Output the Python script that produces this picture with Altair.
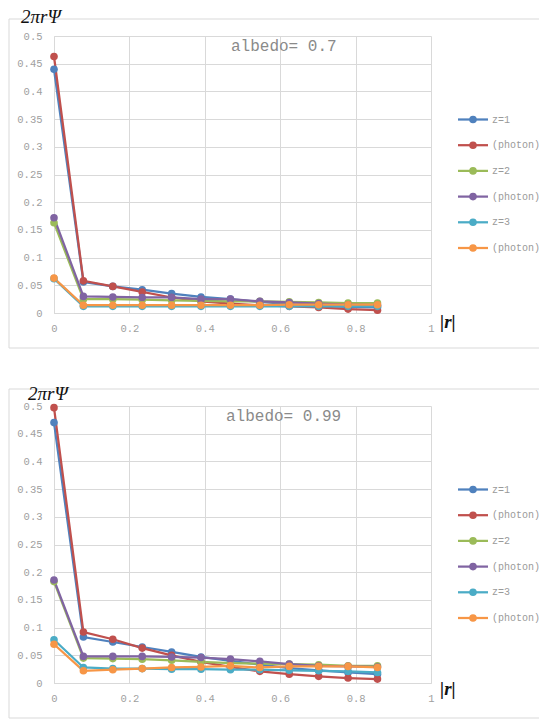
import altair as alt
import pandas as pd

# ---------------- data ----------------
r_values = [0, 0.078, 0.156, 0.234, 0.312, 0.39, 0.468, 0.546, 0.624, 0.702, 0.78, 0.858]

series_keys = ["s1", "s2", "s3", "s4", "s5", "s6"]
series_labels = ["z=1", "(photon)", "z=2", "(photon)", "z=3", "(photon)"]
series_colors = ["#4F81BD", "#C0504D", "#9BBB59", "#8064A2", "#4BACC6", "#F79646"]

# albedo = 0.7
a07_z1 = [0.440, 0.056, 0.048, 0.042, 0.035, 0.029, 0.025, 0.020, 0.016, 0.013, 0.011, 0.010]
a07_p1 = [0.463, 0.058, 0.048, 0.038, 0.028, 0.021, 0.017, 0.014, 0.012, 0.010, 0.007, 0.005]
a07_z2 = [0.163, 0.025, 0.025, 0.024, 0.023, 0.022, 0.021, 0.021, 0.020, 0.019, 0.018, 0.018]
a07_p2 = [0.172, 0.030, 0.029, 0.028, 0.028, 0.025, 0.025, 0.021, 0.019, 0.017, 0.015, 0.014]
a07_z3 = [0.062, 0.012, 0.012, 0.012, 0.012, 0.012, 0.012, 0.012, 0.012, 0.012, 0.012, 0.012]
a07_p3 = [0.063, 0.014, 0.014, 0.014, 0.014, 0.014, 0.014, 0.014, 0.015, 0.015, 0.015, 0.015]

# albedo = 0.99
a99_z1 = [0.470, 0.083, 0.074, 0.065, 0.056, 0.047, 0.040, 0.033, 0.027, 0.023, 0.019, 0.016]
a99_p1 = [0.497, 0.092, 0.079, 0.063, 0.050, 0.038, 0.029, 0.021, 0.016, 0.012, 0.009, 0.007]
a99_z2 = [0.183, 0.045, 0.044, 0.043, 0.041, 0.038, 0.036, 0.035, 0.034, 0.033, 0.031, 0.031]
a99_p2 = [0.186, 0.048, 0.048, 0.048, 0.047, 0.046, 0.043, 0.039, 0.034, 0.031, 0.030, 0.029]
a99_z3 = [0.078, 0.028, 0.026, 0.026, 0.025, 0.025, 0.024, 0.024, 0.023, 0.022, 0.021, 0.019]
a99_p3 = [0.070, 0.022, 0.024, 0.026, 0.028, 0.029, 0.031, 0.028, 0.030, 0.030, 0.030, 0.028]

x_ticks = [0, 0.2, 0.4, 0.6, 0.8, 1]
y_ticks = [0, 0.05, 0.1, 0.15, 0.2, 0.25, 0.3, 0.35, 0.4, 0.45, 0.5]

# ---------------- styling ----------------
W, H = 377, 277
GRID = "#d9d9d9"
LABEL = "#a0a0a0"
MONO = "Liberation Mono"
SERIF = "Liberation Serif"


def panel(series, albedo_text, title_xy, albedo_xy, r_y):
    rows = []
    for k, vals in zip(series_keys, series):
        for r, v in zip(r_values, vals):
            rows.append({"r": r, "v": v, "key": k})
    df = pd.DataFrame(rows)

    color = alt.Color("key:N", scale=alt.Scale(domain=series_keys, range=series_colors), legend=None)
    x = alt.X("r:Q", scale=alt.Scale(domain=[0, 1], nice=False),
              axis=alt.Axis(values=x_ticks, format="~g", title=None, grid=True, gridColor=GRID,
                            domainColor=GRID, ticks=False, labelPadding=10, labelFlush=False,
                            labelOverlap=False, labelColor=LABEL, labelFont=MONO, labelFontSize=10.5))
    y = alt.Y("v:Q", scale=alt.Scale(domain=[0, 0.5], nice=False),
              axis=alt.Axis(values=y_ticks, format="~g", title=None, grid=True, gridColor=GRID,
                            domainColor=GRID, ticks=False, labelPadding=12, labelOverlap=False,
                            labelColor=LABEL, labelFont=MONO, labelFontSize=10.5))

    base = alt.Chart(df)
    lines = base.mark_line(strokeWidth=2.25).encode(x=x, y=y, color=color)
    points = base.mark_circle(size=58, opacity=1).encode(x=x, y=y, color=color)
    data_layer = alt.layer(lines, points)

    leg_df = pd.DataFrame({"key": series_keys, "label": series_labels})
    leg_y = alt.Y("key:N", scale=alt.Scale(type="point", domain=series_keys, range=[83.5, 212], padding=0),
                  axis=None)
    leg = alt.Chart(leg_df)
    leg_rule = leg.mark_rule(strokeWidth=2.25).encode(x=alt.value(404), x2=alt.value(434), y=leg_y, color=color)
    leg_dot = leg.mark_circle(size=58, opacity=1).encode(x=alt.value(419), y=leg_y, color=color)
    leg_text = leg.mark_text(align="left", baseline="middle", font=MONO, fontSize=10, color="#9a9a9a").encode(
        x=alt.value(438), y=leg_y, text="label:N")
    legend_layer = alt.layer(leg_rule, leg_dot, leg_text)

    one = alt.Chart(pd.DataFrame({"a": [0]}))
    frame_top = one.mark_rule(color=GRID, strokeWidth=1).encode(x=alt.value(-45), x2=alt.value(485), y=alt.value(-17))
    frame_bot = one.mark_rule(color=GRID, strokeWidth=1).encode(x=alt.value(-45), x2=alt.value(485), y=alt.value(312))
    frame_left = one.mark_rule(color=GRID, strokeWidth=1).encode(x=alt.value(-45), y=alt.value(-17), y2=alt.value(312))

    title = one.mark_text(text="2πrΨ", align="left", baseline="top", font=SERIF, fontStyle="italic",
                          fontSize=19, color="#111111").encode(x=alt.value(title_xy[0]), y=alt.value(title_xy[1]))
    albedo = one.mark_text(text=albedo_text, align="left", baseline="middle", font=MONO, fontSize=16,
                           color="#8a8a8a").encode(x=alt.value(albedo_xy[0]), y=alt.value(albedo_xy[1]))
    rlab = one.mark_text(text="|r|", align="left", baseline="middle", font=SERIF, fontStyle="italic",
                         fontWeight="bold", fontSize=19, color="#111111").encode(x=alt.value(386), y=alt.value(r_y))

    deco = alt.layer(frame_top, frame_bot, frame_left, title, albedo, rlab)

    return alt.layer(deco, data_layer, legend_layer).resolve_scale(y="independent").properties(width=W, height=H)


top = panel([a07_z1, a07_p1, a07_z2, a07_p2, a07_z3, a07_p3], "albedo= 0.7", (-33, -28), (177, 10), 286)
bottom = panel([a99_z1, a99_p1, a99_z2, a99_p2, a99_z3, a99_p3], "albedo= 0.99", (-26, -21), (172, 10), 283)

chart = alt.vconcat(top, bottom, spacing=36).properties(padding=0).configure_view(stroke=None)

chart.save("out.html", embed_options={"renderer": "svg", "actions": False})
